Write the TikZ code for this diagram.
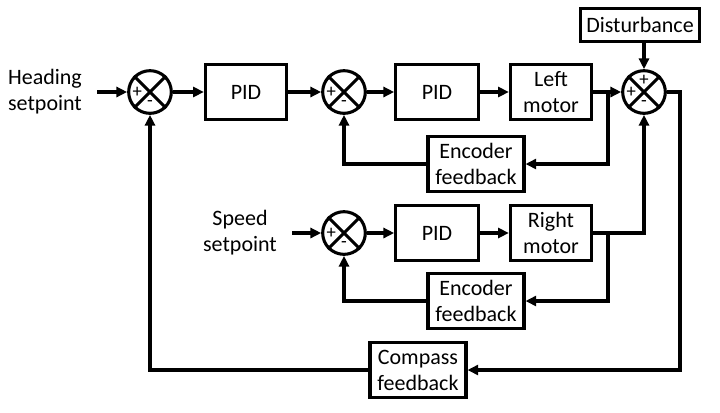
\documentclass[tikz,border=0pt]{standalone}
\usepackage{fontspec}
\setmainfont{Carlito}
\usetikzlibrary{arrows.meta,positioning}
\begin{document}
\begin{tikzpicture}[x=0.75pt,y=-0.75pt,line width=2.3pt,
    block/.style={draw,inner sep=2pt,minimum width=61pt,minimum height=41pt,align=center,font=\fontsize{16.5}{19.5}\selectfont},
    sumnode/.style={draw,circle,minimum size=32pt,inner sep=0pt},
    txt/.style={align=center,font=\fontsize{16.5}{19.5}\selectfont},
    sgn/.style={font=\fontsize{14}{14}\selectfont,inner sep=0pt},
    sig/.style={-{Triangle[length=8pt,width=7.5pt]}}]
    \useasboundingbox (0,0) rectangle (720,412);

    \node[txt] (head) at (45,92) {Heading\\setpoint};
    \node[sumnode] (s1) at (150,92) {};
    \node[block] (pid1) at (246,92) {PID};
    \node[sumnode] (s2) at (344,92) {};
    \node[block,minimum width=62pt] (pid2) at (437,92) {PID};
    \node[block] (lm) at (551,92) {Left\\motor};
    \node[sumnode] (s3) at (644,92) {};
    \node[block,minimum width=89pt,minimum height=25pt] (dist) at (640,25) {Disturbance};
    \node[block,minimum width=72pt] (enc1) at (476,164) {Encoder\\feedback};

    \node[txt] (speed) at (240,233) {Speed\\setpoint};
    \node[sumnode] (s4) at (344,233) {};
    \node[block,minimum width=62pt] (pid3) at (437,233) {PID};
    \node[block] (rm) at (551,233) {Right\\motor};
    \node[block,minimum width=72pt] (enc2) at (476,301) {Encoder\\feedback};
    \node[block,minimum width=72pt] (comp) at (418,370) {Compass\\feedback};

    \foreach \s in {s1,s2,s3,s4} {
      \draw (\s.north east) -- (\s.south west);
      \draw (\s.north west) -- (\s.south east);
      \node[sgn] at ([xshift=-9.5pt]\s.center) {+};
      \node[sgn] at ([yshift=-9pt]\s.center) {-};
    }
    \node[sgn] at ([yshift=8.5pt]s3.center) {+};

    \coordinate (b1) at (608,92);
    \coordinate (b2) at (608,233);
    \coordinate (c3) at (680,92);

    \draw[sig,shorten <=7pt] (head) -- (s1);
    \draw[sig] (s1) -- (pid1);
    \draw[sig] (pid1) -- (s2);
    \draw[sig] (s2) -- (pid2);
    \draw[sig] (pid2) -- (lm);
    \draw[sig] (lm) -- (s3);
    \draw[sig] (b1) |- (enc1);
    \draw[sig] (enc1) -| (s2);
    \draw[sig] (dist.south -| s3.north) -- (s3.north);

    \draw[sig,shorten <=7pt] (speed) -- (s4);
    \draw[sig] (s4) -- (pid3);
    \draw[sig] (pid3) -- (rm);
    \draw[sig] (rm) -| (s3);
    \draw[sig] (b2) |- (enc2);
    \draw[sig] (enc2) -| (s4);

    \draw[sig] (s3) -- (c3) |- (comp);
    \draw[sig] (comp) -| (s1);
  \end{tikzpicture}
\end{document}
